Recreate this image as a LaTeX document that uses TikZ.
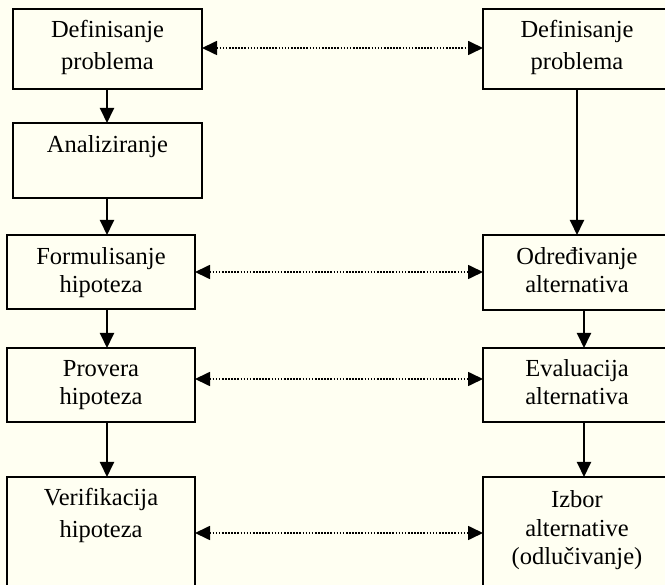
\documentclass[tikz,border=0pt]{standalone}
\usepackage{fontspec}
\setmainfont{Liberation Serif}
\usetikzlibrary{arrows.meta}
\definecolor{bgcol}{HTML}{FFFFF2}
\begin{document}
\begin{tikzpicture}[x=1pt,y=-1pt,
  box/.style={draw, line width=2.3pt, minimum width=188pt, inner sep=0pt, outer sep=0pt},
  lbl/.style={align=center, inner sep=0pt, anchor=north},
  flow/.style={line width=1.9pt, -{Triangle[length=15pt,width=14pt]}},
  link/.style={line width=1.7pt, dash pattern=on 1.6pt off 1.5pt,
    {Triangle[length=15pt,width=14pt]}-{Triangle[length=15pt,width=14pt]}}]
\useasboundingbox (0,0) rectangle (665,585);
\clip (0,0) rectangle (665,585);
\fill[bgcol] (0,0) rectangle (665,585);

% left column
\node[box, minimum width=189pt, minimum height=80pt] (L1) at (107.5,49) {};
\node[box, minimum width=189pt, minimum height=75pt] (L2) at (107.5,160.5) {};
\node[box, minimum height=74pt] (L3) at (101,272) {};
\node[box, minimum height=74pt] (L4) at (101,385) {};
\node[box, minimum height=126pt] (L5) at (101,540) {};
% right column
\node[box, minimum height=80pt] (R1) at (577,49) {};
\node[box, minimum height=75pt] (R2) at (577,272.5) {};
\node[box, minimum height=74pt] (R3) at (577,385) {};
\node[box, minimum height=126pt] (R4) at (577,540) {};

% labels
\node[lbl, font=\fontsize{24.5}{32}\selectfont] (tL1) at ([yshift=-11pt]L1.north) {Definisanje\\problema};
\node[lbl, font=\fontsize{24.5}{28}\selectfont] (tL2) at ([yshift=-12.5pt]L2.north) {Analiziranje};
\node[lbl, font=\fontsize{24.5}{28}\selectfont] (tL3) at ([yshift=-12.5pt]L3.north) {Formulisanje\\hipoteza};
\node[lbl, font=\fontsize{24.5}{28}\selectfont] (tL4) at ([yshift=-12.5pt]L4.north) {Provera\\hipoteza};
\node[lbl, font=\fontsize{24.5}{32}\selectfont] (tL5) at ([yshift=-11pt]L5.north) {Verifikacija\\hipoteza};
\node[lbl, font=\fontsize{24.5}{32}\selectfont] (tR1) at ([yshift=-11pt]R1.north) {Definisanje\\problema};
\node[lbl, font=\fontsize{24.5}{28}\selectfont] (tR2) at ([yshift=-12.5pt]R2.north) {Određivanje\\alternativa};
\node[lbl, font=\fontsize{24.5}{28}\selectfont] (tR3) at ([yshift=-11.5pt]R3.north) {Evaluacija\\alternativa};
\node[lbl, font=\fontsize{24.5}{28.5}\selectfont] (tR4) at ([yshift=-13.5pt]R4.north) {Izbor\\alternative\\(odlučivanje)};

% vertical flow arrows
\draw[flow] ([xshift=-0.5pt]L1.south) -- ([xshift=-0.5pt]L2.north);
\draw[flow] ([xshift=-0.5pt]L2.south) -- ([xshift=-0.5pt]L2.south |- L3.north);
\draw[flow] ([xshift=6pt]L3.south) -- ([xshift=6pt]L4.north);
\draw[flow] ([xshift=6pt]L4.south) -- ([xshift=6pt]L5.north);
\draw[flow] (R1.south) -- (R2.north);
\draw[flow] ([xshift=7pt]R2.south) -- ([xshift=7pt]R3.north);
\draw[flow] ([xshift=7pt]R3.south) -- ([xshift=7pt]R4.north);

% dotted links
\draw[link] ([yshift=1pt]L1.east) -- ([yshift=1pt]R1.west);
\draw[link] (L3.east) -- (L3.east -| R2.west);
\draw[link] ([yshift=6pt]L4.east) -- ([yshift=6pt]R3.west);
\draw[link] ([yshift=7pt]L5.east) -- ([yshift=7pt]R4.west);
\end{tikzpicture}
\end{document}
